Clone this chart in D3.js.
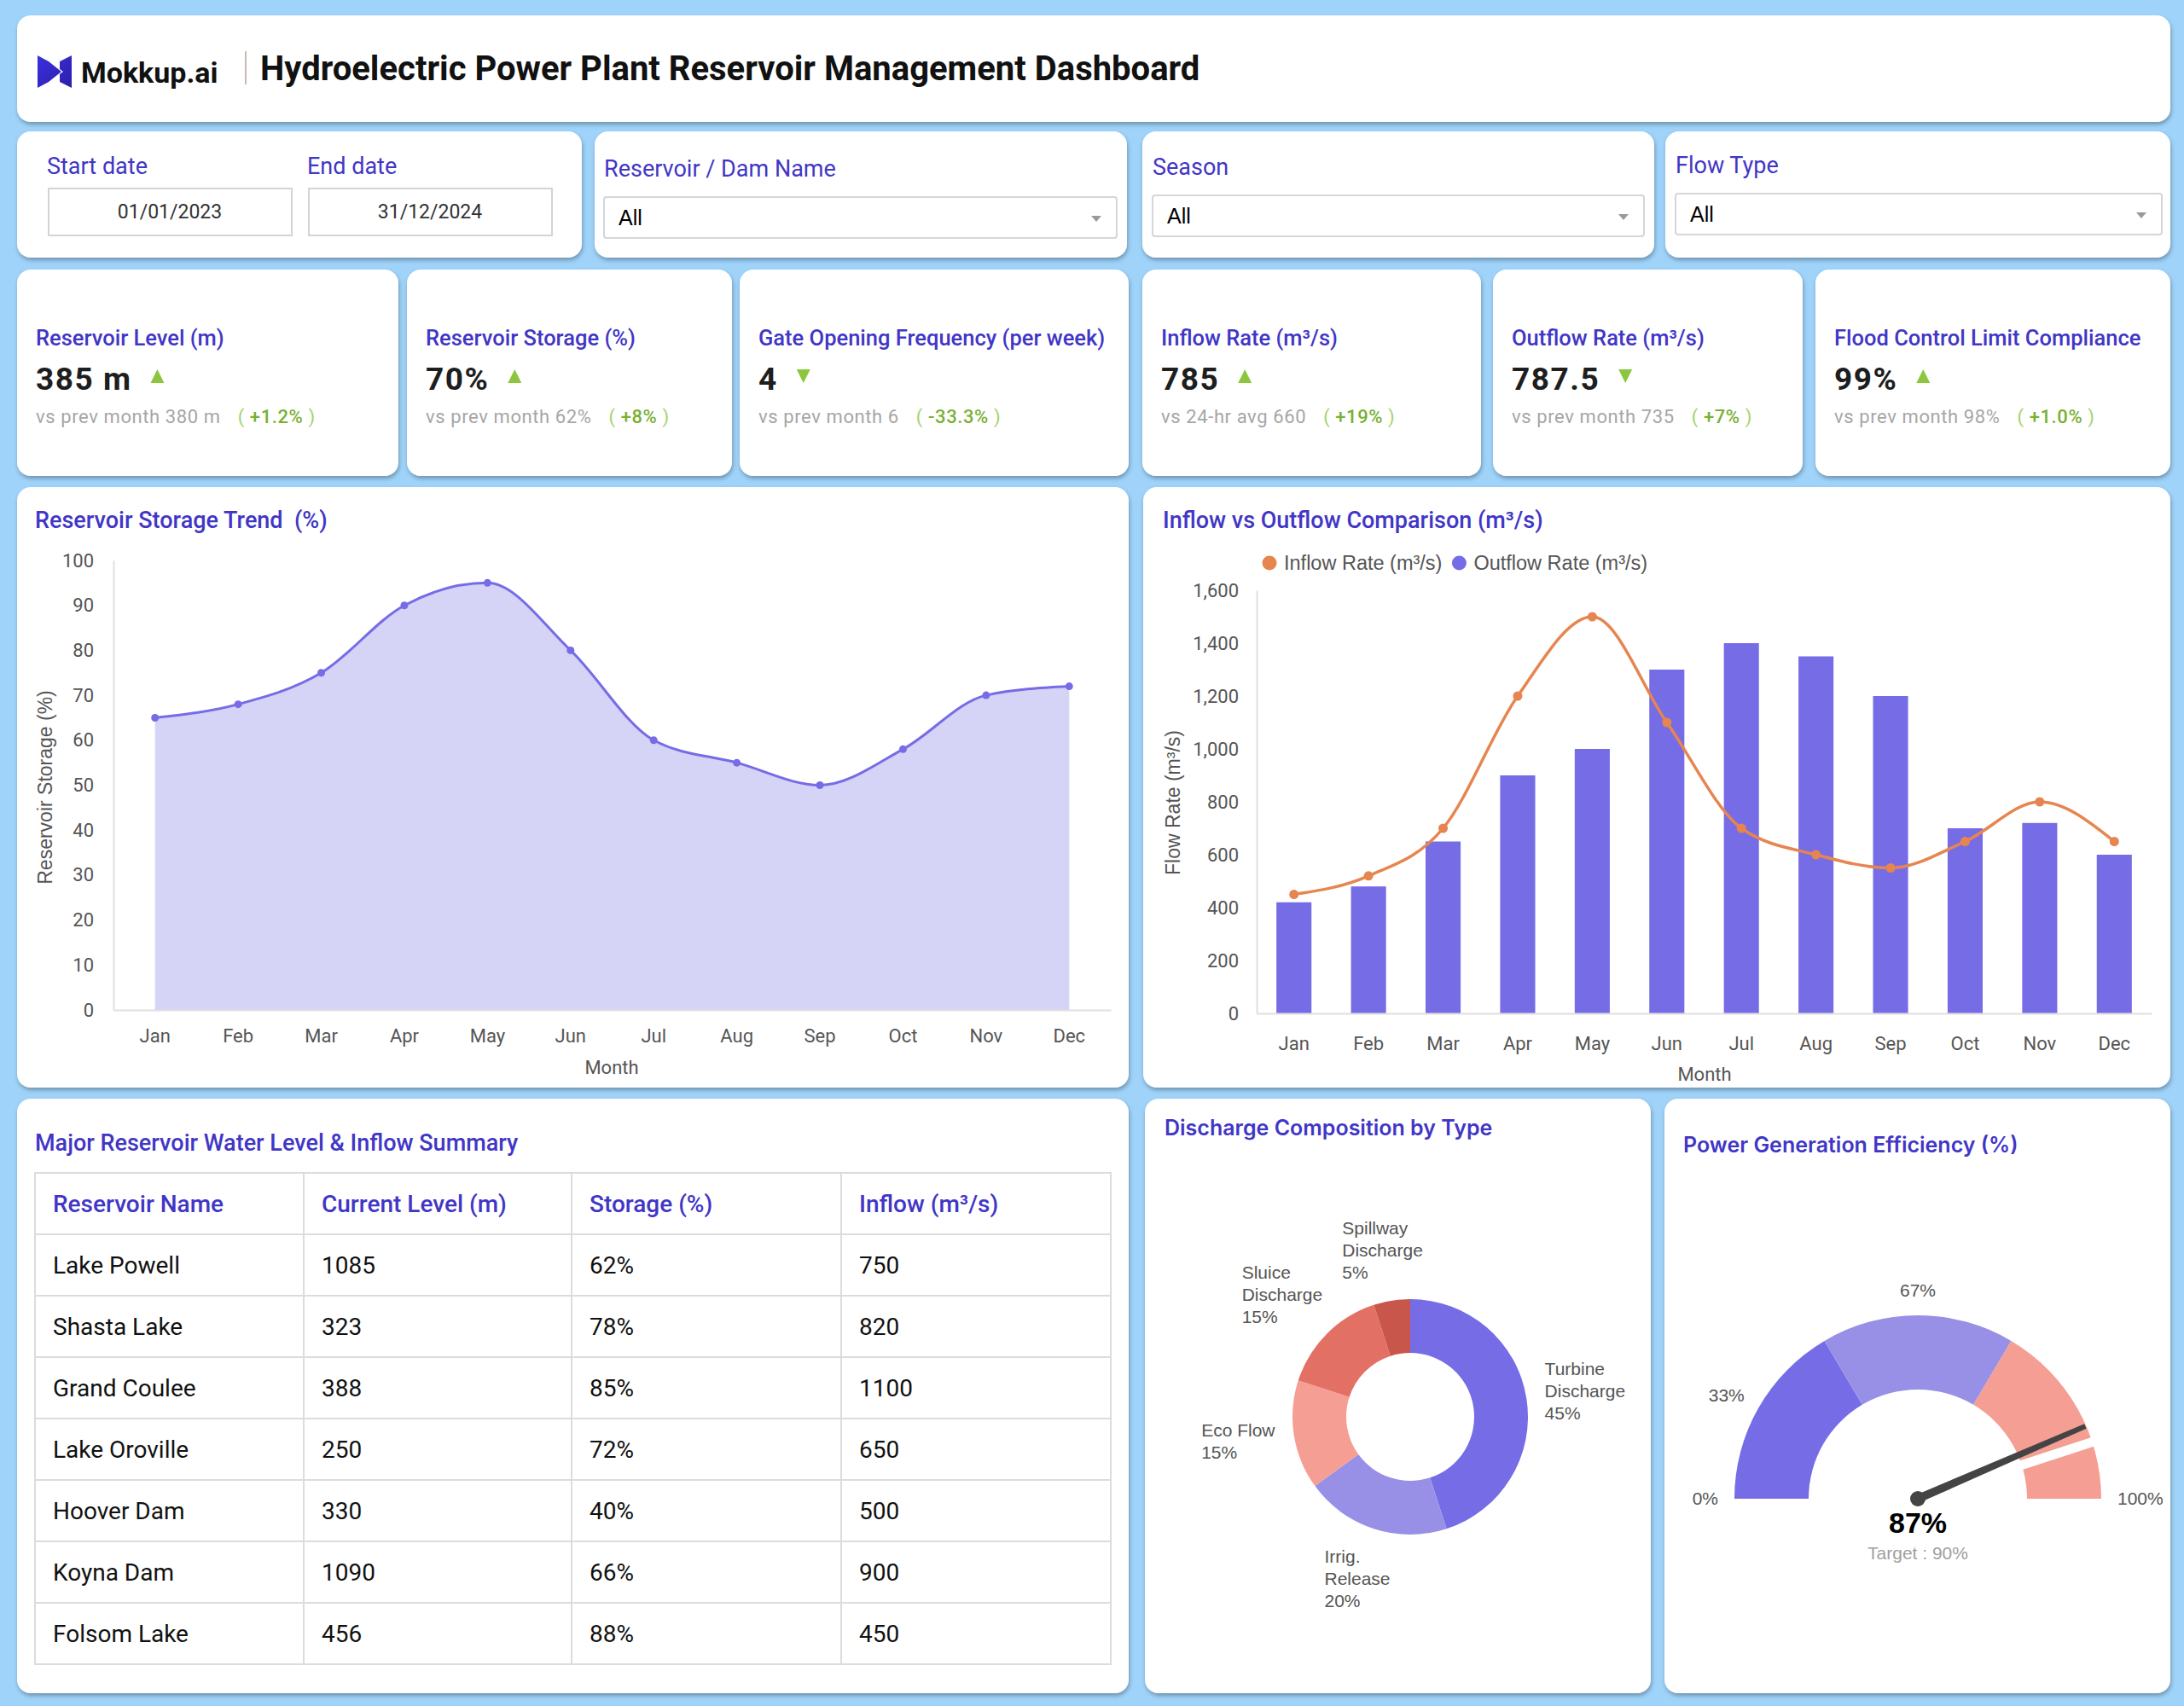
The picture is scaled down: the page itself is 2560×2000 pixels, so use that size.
<!DOCTYPE html>
<html>
<head>
<meta charset="utf-8">
<script src="https://cdn.jsdelivr.net/npm/d3@7"></script>
<style>
  html, body { margin: 0; padding: 0; background: #9fd3fa; }
  svg { display: block; }
  text { font-family: Roboto, "Liberation Sans", sans-serif; white-space: pre; }
</style>
</head>
<body>
<svg id="dash" width="2560" height="2000"></svg>
<script>
// ---- data ----
var months = ["Jan","Feb","Mar","Apr","May","Jun","Jul","Aug","Sep","Oct","Nov","Dec"];
var storagePct = [65, 68, 75, 90, 95, 80, 60, 55, 50, 58, 70, 72];
var storageTicks = [0, 10, 20, 30, 40, 50, 60, 70, 80, 90, 100];

var inflowRate  = [450, 520, 700, 1200, 1500, 1100, 700, 600, 550, 650, 800, 650];
var outflowRate = [420, 480, 650, 900, 1000, 1300, 1400, 1350, 1200, 700, 720, 600];
var flowTicks = [0, 200, 400, 600, 800, 1000, 1200, 1400, 1600];

var kpiTitles  = ["Reservoir Level (m)", "Reservoir Storage (%)", "Gate Opening Frequency (per week)",
                  "Inflow Rate (m\u00b3/s)", "Outflow Rate (m\u00b3/s)", "Flood Control Limit Compliance"];
var kpiValues  = ["385 m", "70%", "4", "785", "787.5", "99%"];
var kpiTrend   = ["up", "up", "down", "up", "down", "up"];
var kpiCompare = ["vs prev month 380 m", "vs prev month 62%", "vs prev month 6",
                  "vs 24-hr avg 660", "vs prev month 735", "vs prev month 98%"];
var kpiChange  = ["+1.2%", "+8%", "-33.3%", "+19%", "+7%", "+1.0%"];

var tableHeaders = ["Reservoir Name", "Current Level (m)", "Storage (%)", "Inflow (m\u00b3/s)"];
var reservoirNames = ["Lake Powell", "Shasta Lake", "Grand Coulee", "Lake Oroville", "Hoover Dam", "Koyna Dam", "Folsom Lake"];
var currentLevels  = [1085, 323, 388, 250, 330, 1090, 456];
var storageShares  = ["62%", "78%", "85%", "72%", "40%", "66%", "88%"];
var reservoirInflows = [750, 820, 1100, 650, 500, 900, 450];

var dischargeTypes  = ["Turbine Discharge", "Irrig. Release", "Eco Flow", "Sluice Discharge", "Spillway Discharge"];
var dischargeShares = [45, 20, 15, 15, 5];

var efficiency = 87;
var efficiencyTarget = 90;
var gaugeBands = [0, 33, 67, 100];
var gaugeLabels = ["0%", "33%", "67%", "100%"];
var gaugeLabelAt = [0, 16.5, 50, 100];

// ---- colours ----
var indigo = "#4136c6",
    purple = "#766ce6",
    lilac = "#9790e6",
    salmon = "#f59e94",
    coral = "#e37065",
    brick = "#c9564b",
    orange = "#e6854f",
    green = "#8cc63f";

var svg = d3.select("#dash");
var defs = svg.append("defs");
var sh = defs.append("filter").attr("id", "shadow")
    .attr("x", "-5%").attr("y", "-5%").attr("width", "110%").attr("height", "115%");
sh.append("feDropShadow").attr("dx", 1).attr("dy", 3).attr("stdDeviation", 2.5)
    .attr("flood-color", "#000").attr("flood-opacity", 0.3);

var lg = defs.append("linearGradient").attr("id", "logoGrad")
    .attr("x1", 0).attr("y1", 0).attr("x2", 1).attr("y2", 1);
lg.append("stop").attr("offset", "0%").attr("stop-color", "#3d2fe0");
lg.append("stop").attr("offset", "100%").attr("stop-color", "#2a1fa8");

function card(x, y, w, h) {
  svg.append("rect")
    .attr("x", x).attr("y", y).attr("width", w).attr("height", h)
    .attr("rx", 16).attr("fill", "#fff").attr("filter", "url(#shadow)");
}

function label(x, y, txt, size, color, weight, family) {
  return svg.append("text")
    .attr("x", x).attr("y", y)
    .attr("font-size", size)
    .attr("fill", color)
    .attr("font-weight", weight || 400)
    .style("font-family", family || null)
    .text(txt);
}

// ---- header ----
card(20, 18, 2524, 125);
svg.append("path")
  .attr("transform", "translate(44,65)")
  .attr("fill", "url(#logoGrad)")
  .attr("d", "M0,0 L13,7 L28,19 L13,31 L0,38 Z M40,0 L40,38 L26,31 L26,22 L30,19 L26,16 L26,7 Z");
label(95, 97, "Mokkup.ai", 34, "#111", 700);
svg.append("line").attr("x1", 288).attr("x2", 288).attr("y1", 60).attr("y2", 99)
  .attr("stroke", "#c9b9b2").attr("stroke-width", 2);
label(305, 94, "Hydroelectric Power Plant Reservoir Management Dashboard", 40, "#111", 700);

// ---- filters ----
card(20, 154, 662, 148);
card(697, 154, 624, 148);
card(1339, 154, 600, 148);
card(1952, 154, 592, 148);

function dateBox(x, lab, val) {
  label(x - 2, 204, lab, 27, indigo);
  svg.append("rect").attr("x", x).attr("y", 221).attr("width", 285).attr("height", 55)
    .attr("fill", "#fff").attr("stroke", "#d4d4d4").attr("stroke-width", 2);
  label(x + 142, 256, val, 23, "#333").attr("text-anchor", "middle");
}
dateBox(57, "Start date", "01/01/2023");
dateBox(362, "End date", "31/12/2024");

function dropdown(x, y, w, lab) {
  label(x, y - 24, lab, 27, indigo);
  svg.append("rect").attr("x", x).attr("y", y).attr("width", w).attr("height", 48)
    .attr("rx", 3).attr("fill", "#fff").attr("stroke", "#d6d6d6").attr("stroke-width", 2);
  label(x + 17, y + 33, "All", 25, "#000", 400, "Liberation Sans");
  var ax = x + w - 24, ay = y + 22;
  svg.append("path").attr("d", "M" + (ax - 6) + "," + ay + " L" + (ax + 6) + "," + ay + " L" + ax + "," + (ay + 7) + " Z")
    .attr("fill", "#9a9a9a");
}
dropdown(708, 231, 601, "Reservoir / Dam Name");
dropdown(1351, 229, 576, "Season");
dropdown(1964, 227, 570, "Flow Type");

// ---- KPI cards ----
var kpiBox = [[20, 447], [477, 381], [867, 456], [1339, 397], [1750, 363], [2128, 416]];
kpiBox.forEach(function (b, i) {
  card(b[0], 316, b[1], 242);
  var tx = b[0] + 22;
  label(tx, 405, kpiTitles[i], 25.5, indigo, 500);
  var v = label(tx, 457, kpiValues[i], 37, "#1e1e1e", 700).attr("letter-spacing", 1.5);
  var vw = v.node().getComputedTextLength();
  var ax = tx + vw + 30, ay = 441;
  var tri = kpiTrend[i] === "up"
    ? "M" + (ax - 8) + "," + (ay + 8) + " L" + (ax + 8) + "," + (ay + 8) + " L" + ax + "," + (ay - 8) + " Z"
    : "M" + (ax - 8) + "," + (ay - 8) + " L" + (ax + 8) + "," + (ay - 8) + " L" + ax + "," + (ay + 8) + " Z";
  svg.append("path").attr("d", tri).attr("fill", green);
  var s = label(tx, 496, "", 22, "#a6a6a6").attr("letter-spacing", 0.6);
  s.append("tspan").text(kpiCompare[i]);
  s.append("tspan").attr("dx", 20).attr("fill", "#a5d16b").text("(");
  s.append("tspan").attr("dx", 6).attr("fill", "#78b034").attr("font-weight", 500).text(kpiChange[i]);
  s.append("tspan").attr("dx", 6).attr("fill", "#a5d16b").text(")");
});

// ---- storage trend chart ----
card(20, 571, 1303, 704);
label(41, 619, "Reservoir Storage Trend\u00a0\u00a0(%)", 27, indigo, 500);

var xS = d3.scaleBand().domain(months).range([133, 1302]).padding(0);
var yS = d3.scaleLinear().domain([0, 100]).range([1184, 657]);

var storageData = storagePct.map(function (v, i) { return { m: months[i], v: v }; });
var g1 = svg.append("g");
g1.append("path").datum(storageData)
  .attr("fill", "#d5d3f6")
  .attr("d", d3.area().curve(d3.curveMonotoneX)
    .x(function (d) { return xS(d.m) + xS.bandwidth() / 2; })
    .y0(yS(0)).y1(function (d) { return yS(d.v); }));
g1.append("path").datum(storageData)
  .attr("fill", "none").attr("stroke", purple).attr("stroke-width", 3)
  .attr("d", d3.line().curve(d3.curveMonotoneX)
    .x(function (d) { return xS(d.m) + xS.bandwidth() / 2; })
    .y(function (d) { return yS(d.v); }));
g1.selectAll("circle").data(storageData).enter().append("circle")
  .attr("cx", function (d) { return xS(d.m) + xS.bandwidth() / 2; })
  .attr("cy", function (d) { return yS(d.v); })
  .attr("r", 4.5).attr("fill", purple);

function styleAxis(g) {
  g.select(".domain").attr("stroke", "#e0e0e0").attr("stroke-width", 2);
  g.selectAll("text").attr("font-size", 22).attr("fill", "#555").style("font-family", "Roboto");
}
svg.append("g").attr("transform", "translate(133,0)")
  .call(d3.axisLeft(yS).tickValues(storageTicks).tickSize(0).tickPadding(23))
  .call(styleAxis);
svg.append("g").attr("transform", "translate(0,1184)")
  .call(d3.axisBottom(xS).tickSize(0).tickPadding(22))
  .call(styleAxis);
g1.selectAll("x").remove();
label(717, 1259, "Month", 22, "#555").attr("text-anchor", "middle");
label(0, 0, "Reservoir Storage (%)", 23, "#555", 400, "Liberation Sans")
  .attr("text-anchor", "middle").attr("transform", "translate(61,923) rotate(-90)");

// ---- inflow vs outflow chart ----
card(1340, 571, 1204, 704);
label(1363, 619, "Inflow vs Outflow Comparison (m\u00b3/s)", 27, indigo, 500);

var xB = d3.scaleBand().domain(months).range([1473, 2522]).paddingInner(0.53).paddingOuter(0.265);
var yF = d3.scaleLinear().domain([0, 1600]).range([1188, 692]);
var flowData = months.map(function (m, i) { return { m: m, inflow: inflowRate[i], outflow: outflowRate[i] }; });
var midB = function (d) { return xB(d.m) + xB.bandwidth() / 2; };

var g2 = svg.append("g");
g2.selectAll("rect").data(flowData).enter().append("rect")
  .attr("x", function (d) { return xB(d.m); })
  .attr("y", function (d) { return yF(d.outflow); })
  .attr("width", xB.bandwidth())
  .attr("height", function (d) { return yF(0) - yF(d.outflow); })
  .attr("fill", purple);
g2.append("path").datum(flowData)
  .attr("fill", "none").attr("stroke", orange).attr("stroke-width", 3.5)
  .attr("d", d3.line().curve(d3.curveMonotoneX).x(midB).y(function (d) { return yF(d.inflow); }));
g2.selectAll("circle").data(flowData).enter().append("circle")
  .attr("cx", midB).attr("cy", function (d) { return yF(d.inflow); })
  .attr("r", 5.5).attr("fill", orange);

svg.append("g").attr("transform", "translate(1473,0)")
  .call(d3.axisLeft(yF).tickValues(flowTicks).tickFormat(d3.format(",")).tickSize(0).tickPadding(21))
  .call(styleAxis);
svg.append("g").attr("transform", "translate(0,1188)")
  .call(d3.axisBottom(xB).tickSize(0).tickPadding(27))
  .call(styleAxis);
label(1998, 1267, "Month", 22, "#555").attr("text-anchor", "middle");
label(0, 0, "Flow Rate (m\u00b3/s)", 23, "#555", 400, "Liberation Sans")
  .attr("text-anchor", "middle").attr("transform", "translate(1383,941) rotate(-90)");

// legend
var leg = [["Inflow Rate (m\u00b3/s)", orange], ["Outflow Rate (m\u00b3/s)", purple]];
var lx = 1488;
leg.forEach(function (l) {
  svg.append("circle").attr("cx", lx).attr("cy", 660).attr("r", 8.5).attr("fill", l[1]);
  var t = label(lx + 17, 668, l[0], 23.5, "#555", 400, "Liberation Sans");
  lx += 17 + t.node().getComputedTextLength() + 20;
});

// ---- table ----
card(20, 1288, 1303, 697);
label(41, 1349, "Major Reservoir Water Level & Inflow Summary", 27, indigo, 500);
var colX = [41, 356, 670, 986, 1302];
var rowTop = 1375, rowH = 72;
var rows = reservoirNames.map(function (n, i) {
  return [n, currentLevels[i], storageShares[i], reservoirInflows[i]];
});
var tg = svg.append("g");
tg.append("rect").attr("x", colX[0]).attr("y", rowTop).attr("width", colX[4] - colX[0])
  .attr("height", rowH * (rows.length + 1)).attr("fill", "none").attr("stroke", "#dcdcdc").attr("stroke-width", 2);
d3.range(1, rows.length + 1).forEach(function (r) {
  tg.append("line").attr("x1", colX[0]).attr("x2", colX[4])
    .attr("y1", rowTop + r * rowH).attr("y2", rowTop + r * rowH)
    .attr("stroke", "#dcdcdc").attr("stroke-width", 2);
});
[1, 2, 3].forEach(function (c) {
  tg.append("line").attr("x1", colX[c]).attr("x2", colX[c])
    .attr("y1", rowTop).attr("y2", rowTop + rowH * (rows.length + 1))
    .attr("stroke", "#dcdcdc").attr("stroke-width", 2);
});
tableHeaders.forEach(function (h, c) {
  label(colX[c] + 21, rowTop + rowH / 2 + 10, h, 28, indigo, 500);
});
rows.forEach(function (r, i) {
  r.forEach(function (v, c) {
    label(colX[c] + 21, rowTop + (i + 1) * rowH + rowH / 2 + 10, v, 28, "#111");
  });
});

// ---- donut ----
card(1342, 1288, 593, 697);
label(1365, 1331, "Discharge Composition by Type", 25, indigo, 600, "Inter");
var dcx = 1653, dcy = 1661;
var pie = d3.pie().sort(null).value(function (d) { return d.v; });
var dData = pie(dischargeTypes.map(function (t, i) { return { t: t, v: dischargeShares[i] }; }));
var dColor = d3.scaleOrdinal().domain(dischargeTypes).range([purple, lilac, salmon, coral, brick]);
var dArc = d3.arc().innerRadius(75).outerRadius(138);
var dg = svg.append("g").attr("transform", "translate(" + dcx + "," + dcy + ")");
dg.selectAll("path").data(dData).enter().append("path")
  .attr("d", dArc).attr("fill", function (d) { return dColor(d.data.t); });
dData.forEach(function (d) {
  var a = (d.startAngle + d.endAngle) / 2;
  var sx = Math.sin(a), sy = -Math.cos(a);
  var rr = 158 + 14 * Math.abs(sx * sy);
  var ax = rr * sx, ay = rr * sy;
  var parts = d.data.t.length > 10 ? d.data.t.split(" ") : [d.data.t];
  parts.push(d.data.v + "%");
  var t = dg.append("text").attr("font-size", 21).attr("fill", "#555").style("font-family", "Liberation Sans");
  parts.forEach(function (p, k) {
    t.append("tspan").attr("x", 0).attr("y", k * 26).text(p);
  });
  var bb = t.node().getBBox();
  var left = ax - bb.width * (1 - sx) / 2;
  var top = ay - bb.height * (1 - sy) / 2;
  t.attr("transform", "translate(" + (left - bb.x) + "," + (top - bb.y) + ")");
});

// ---- gauge ----
card(1951, 1288, 593, 697);
label(1973, 1351, "Power Generation Efficiency (%)", 25, indigo, 600, "Inter");
var gcx = 2248, gcy = 1757;
var ang = d3.scaleLinear().domain([0, 100]).range([-Math.PI / 2, Math.PI / 2]);
var gArc = d3.arc().innerRadius(128).outerRadius(215);
var gg = svg.append("g").attr("transform", "translate(" + gcx + "," + gcy + ")");
var gColors = [purple, lilac, salmon];
d3.range(gaugeBands.length - 1).forEach(function (i) {
  gg.append("path").attr("fill", gColors[i])
    .attr("d", gArc({ startAngle: ang(gaugeBands[i]), endAngle: ang(gaugeBands[i + 1]) }));
});
var ta = ang(efficiencyTarget);
gg.append("line")
  .attr("x1", 120 * Math.sin(ta)).attr("y1", -120 * Math.cos(ta))
  .attr("x2", 224 * Math.sin(ta)).attr("y2", -224 * Math.cos(ta))
  .attr("stroke", "#fff").attr("stroke-width", 11);
gaugeLabels.forEach(function (l, i) {
  var a = ang(gaugeLabelAt[i]);
  var sx = Math.sin(a), sy = -Math.cos(a);
  var anchor = Math.abs(sx) < 0.3 ? "middle" : (sx < 0 ? "end" : "start");
  gg.append("text").attr("x", 234 * sx).attr("y", 234 * sy + 7 + sy * 10)
    .attr("text-anchor", anchor).attr("font-size", 21).attr("fill", "#555")
    .style("font-family", "Liberation Sans").text(l);
});
var na = ang(efficiency), nl = 214;
var px = Math.cos(na), py = Math.sin(na);
var tipX = nl * Math.sin(na), tipY = -nl * Math.cos(na);
gg.append("path")
  .attr("d", "M" + (-5 * px) + "," + (-5 * py) + " L" + (tipX - 3 * px) + "," + (tipY - 3 * py) +
    " L" + (tipX + 3 * px) + "," + (tipY + 3 * py) + " L" + (5 * px) + "," + (5 * py) + " Z")
  .attr("fill", "#444");
gg.append("circle").attr("r", 9).attr("fill", "#444");
gg.append("text").attr("y", 40).attr("text-anchor", "middle").attr("font-size", 34).attr("font-weight", 700)
  .attr("fill", "#000").style("font-family", "Liberation Sans").text(efficiency + "%");
gg.append("text").attr("y", 71).attr("text-anchor", "middle").attr("font-size", 21)
  .attr("fill", "#a0a0a0").style("font-family", "Liberation Sans").text("Target : " + efficiencyTarget + "%");
</script>
</body>
</html>
